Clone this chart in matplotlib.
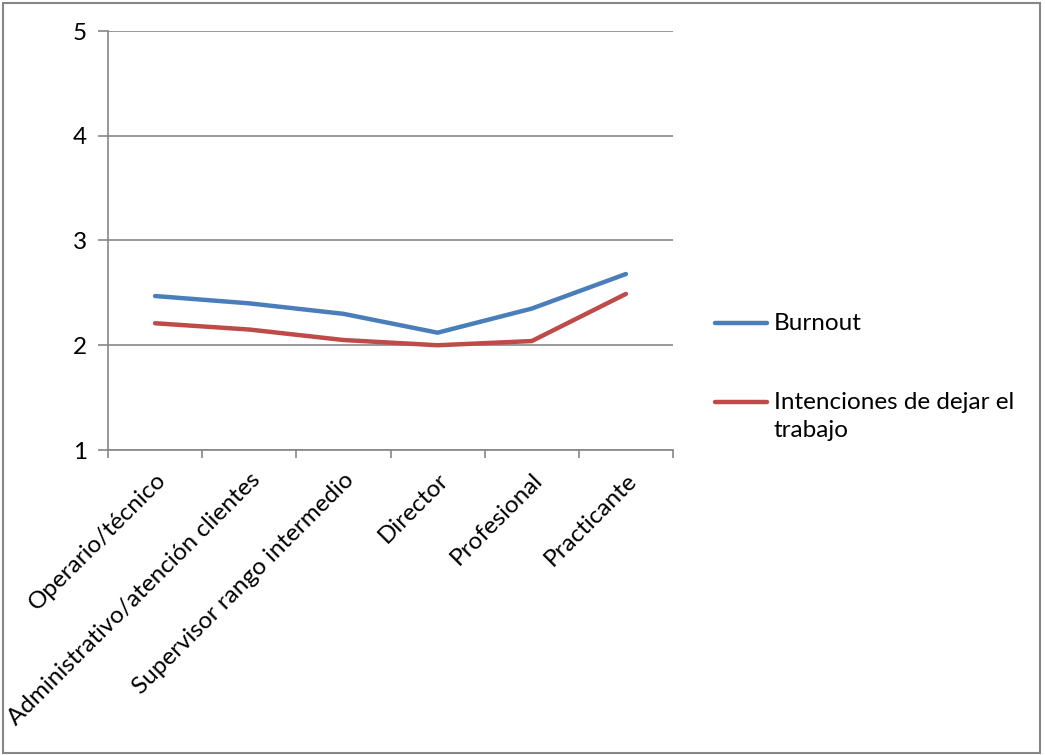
import numpy as np
import matplotlib.pyplot as plt
from matplotlib.lines import Line2D
from matplotlib.patches import Rectangle

plt.rcParams['font.family'] = ['Lato', 'DejaVu Sans']

# puestos y promedios por puesto
puestos = ['Operario/técnico', 'Administrativo/atención clientes',
           'Supervisor rango intermedio', 'Director', 'Profesional', 'Practicante']
burnout = [2.47, 2.40, 2.30, 2.12, 2.35, 2.68]
intenciones = [2.21, 2.15, 2.05, 2.00, 2.04, 2.49]
series_names = ['Burnout', 'Intenciones de dejar el\ntrabajo']
y_ticks = [1, 2, 3, 4, 5]

blue = '#4A7EBB'
red = '#BE4B48'
gray = '#868686'
fs = 17.5

fig = plt.figure(figsize=(10.45, 7.55), dpi=100)
ax = fig.add_axes([108/1045, 1-450/755, (673-108)/1045, (450-31)/755])

x = np.arange(len(puestos))
ax.plot(x, burnout, color=blue, lw=3.2, solid_capstyle='round', solid_joinstyle='round')
ax.plot(x, intenciones, color=red, lw=3.2, solid_capstyle='round', solid_joinstyle='round')

ax.set_xlim(-0.5, len(puestos) - 0.5)
ax.set_ylim(1, 5)
ax.set_yticks(y_ticks)
ax.set_yticklabels([str(t) for t in y_ticks], fontsize=fs)
ax.yaxis.grid(True, color=gray, lw=1.2)
ax.set_axisbelow(True)

# etiquetas en el centro de cada categoría, marcas en los bordes
ax.set_xticks(x)
ax.set_xticklabels(puestos, rotation=45, ha='right', va='top',
                   rotation_mode='anchor', fontsize=fs)
ax.set_xticks(np.arange(len(puestos) + 1) - 0.5, minor=True)
ax.tick_params(axis='x', which='major', length=0, pad=14)
ax.tick_params(axis='x', which='minor', length=6, color=gray, width=1.2)
ax.tick_params(axis='y', length=7, color=gray, width=1.2, pad=8)

for side in ['top', 'right']:
    ax.spines[side].set_visible(False)
for side in ['left', 'bottom']:
    ax.spines[side].set_color(gray)
    ax.spines[side].set_linewidth(1.2)

# leyenda a la derecha
for name, color, yy in zip(series_names, [blue, red], [323, 402]):
    fy = 1 - yy/755
    fig.add_artist(Line2D([715/1045, 767/1045], [fy, fy], color=color, lw=3.2,
                          solid_capstyle='round', transform=fig.transFigure))
    fig.text(774/1045, fy + 10/755, name, fontsize=fs, va='top', ha='left',
             linespacing=1.4)

# marco exterior
fig.add_artist(Rectangle((3/1045, 2/755), 1037/1045, 750/755, fill=False,
                         edgecolor=gray, lw=1.5, transform=fig.transFigure))

fig.savefig('out.png', dpi=100)
